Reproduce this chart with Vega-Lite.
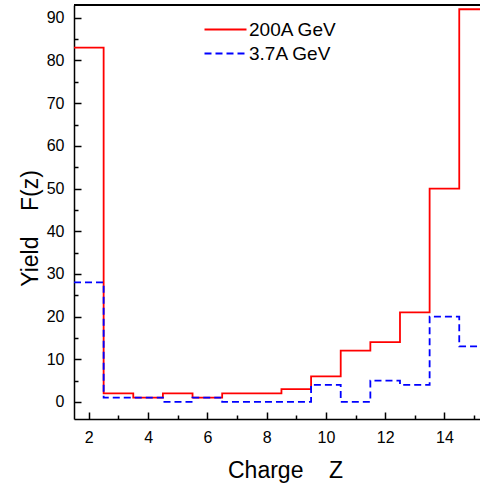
{
  "$schema": "https://vega.github.io/schema/vega-lite/v6.json",
  "autosize": "none",
  "padding": {"left": 74, "top": 5, "right": 0, "bottom": 67},
  "width": 406,
  "height": 414,
  "background": "white",
  "config": {
    "view": {"stroke": null},
    "font": "Liberation Sans",
    "axis": {"grid": false, "domainColor": "black", "domainWidth": 1.5, "tickColor": "black", "tickWidth": 1.5, "labelColor": "black", "titleColor": "black", "labelFont": "Liberation Sans", "titleFont": "Liberation Sans", "labelFontSize": 16, "titleFontSize": 23, "titleFontWeight": "normal"}
  },
  "data": {
    "values": [
      {"z_low": 1.5, "yield": 83, "series": "200A GeV"},
      {"z_low": 2.5, "yield": 2, "series": "200A GeV"},
      {"z_low": 3.5, "yield": 1, "series": "200A GeV"},
      {"z_low": 4.5, "yield": 2, "series": "200A GeV"},
      {"z_low": 5.5, "yield": 1, "series": "200A GeV"},
      {"z_low": 6.5, "yield": 2, "series": "200A GeV"},
      {"z_low": 7.5, "yield": 2, "series": "200A GeV"},
      {"z_low": 8.5, "yield": 3, "series": "200A GeV"},
      {"z_low": 9.5, "yield": 6, "series": "200A GeV"},
      {"z_low": 10.5, "yield": 12, "series": "200A GeV"},
      {"z_low": 11.5, "yield": 14, "series": "200A GeV"},
      {"z_low": 12.5, "yield": 21, "series": "200A GeV"},
      {"z_low": 13.5, "yield": 50, "series": "200A GeV"},
      {"z_low": 14.5, "yield": 92, "series": "200A GeV"},
      {"z_low": 15.5, "yield": 92, "series": "200A GeV"},
      {"z_low": 1.5, "yield": 28, "series": "3.7A GeV"},
      {"z_low": 2.5, "yield": 1, "series": "3.7A GeV"},
      {"z_low": 3.5, "yield": 1, "series": "3.7A GeV"},
      {"z_low": 4.5, "yield": 0, "series": "3.7A GeV"},
      {"z_low": 5.5, "yield": 1, "series": "3.7A GeV"},
      {"z_low": 6.5, "yield": 0, "series": "3.7A GeV"},
      {"z_low": 7.5, "yield": 0, "series": "3.7A GeV"},
      {"z_low": 8.5, "yield": 0, "series": "3.7A GeV"},
      {"z_low": 9.5, "yield": 4, "series": "3.7A GeV"},
      {"z_low": 10.5, "yield": 0, "series": "3.7A GeV"},
      {"z_low": 11.5, "yield": 5, "series": "3.7A GeV"},
      {"z_low": 12.5, "yield": 4, "series": "3.7A GeV"},
      {"z_low": 13.5, "yield": 20, "series": "3.7A GeV"},
      {"z_low": 14.5, "yield": 13, "series": "3.7A GeV"},
      {"z_low": 15.5, "yield": 13, "series": "3.7A GeV"}
    ]
  },
  "resolve": {"axis": {"x": "independent", "y": "independent"}},
  "layer": [
    {
      "mark": {"type": "line", "interpolate": "step-after", "clip": true, "strokeWidth": 1.8},
      "encoding": {
        "x": {
          "field": "z_low", "type": "quantitative",
          "scale": {"domain": [1.5, 15.2], "nice": false, "zero": false},
          "axis": {
            "orient": "bottom",
            "title": "Charge\u00a0\u00a0\u00a0\u00a0Z",
            "values": [2, 4, 6, 8, 10, 12, 14],
            "tickSize": -7,
            "labelPadding": 17,
            "titleX": 211, "titleY": 58, "titleBaseline": "alphabetic", "titleAlign": "center"
          }
        },
        "y": {
          "field": "yield", "type": "quantitative",
          "scale": {"domain": [-4, 93], "nice": false, "zero": false},
          "axis": {
            "orient": "left",
            "title": "Yield\u00a0\u00a0\u00a0\u00a0F(z)",
            "values": [0, 10, 20, 30, 40, 50, 60, 70, 80, 90],
            "tickSize": -7,
            "labelPadding": 17,
            "titleX": -37, "titleY": 223, "titleBaseline": "alphabetic", "titleAlign": "center", "titleAngle": -90
          }
        },
        "color": {
          "field": "series", "type": "nominal",
          "scale": {"domain": ["200A GeV", "3.7A GeV"], "range": ["#ff0000", "#0000ff"]},
          "legend": {
            "title": null, "orient": "none", "legendX": 140, "legendY": 13,
            "padding": 0, "symbolSize": 441, "symbolStrokeWidth": 1.8, "symbolType": "M-2,0H2",
            "labelFontSize": 19, "labelFont": "Liberation Sans", "labelColor": "black", "labelOffset": 12, "rowPadding": 2
          }
        },
        "strokeDash": {
          "field": "series", "type": "nominal",
          "scale": {"domain": ["200A GeV", "3.7A GeV"], "range": [[1, 0], [7, 4]]},
          "legend": {
            "title": null, "orient": "none", "legendX": 140, "legendY": 13,
            "padding": 0, "symbolSize": 441, "symbolStrokeWidth": 1.8, "symbolType": "M-2,0H2",
            "labelFontSize": 19, "labelFont": "Liberation Sans", "labelColor": "black", "labelOffset": 12, "rowPadding": 2
          }
        }
      }
    },
    {
      "mark": {"type": "line", "opacity": 0},
      "encoding": {
        "x": {
          "field": "z_low", "type": "quantitative",
          "axis": {"orient": "bottom", "values": [3, 5, 7, 9, 11, 13, 15], "tickSize": -4, "labels": false, "domain": false, "title": null}
        },
        "y": {
          "field": "yield", "type": "quantitative",
          "axis": {"orient": "left", "values": [5, 15, 25, 35, 45, 55, 65, 75, 85], "tickSize": -4, "labels": false, "domain": false, "title": null}
        },
        "detail": {"field": "series", "type": "nominal"}
      }
    },
    {
      "mark": {"type": "rule", "color": "black", "strokeWidth": 1.5},
      "encoding": {"y": {"datum": 93, "axis": null}}
    }
  ]
}
